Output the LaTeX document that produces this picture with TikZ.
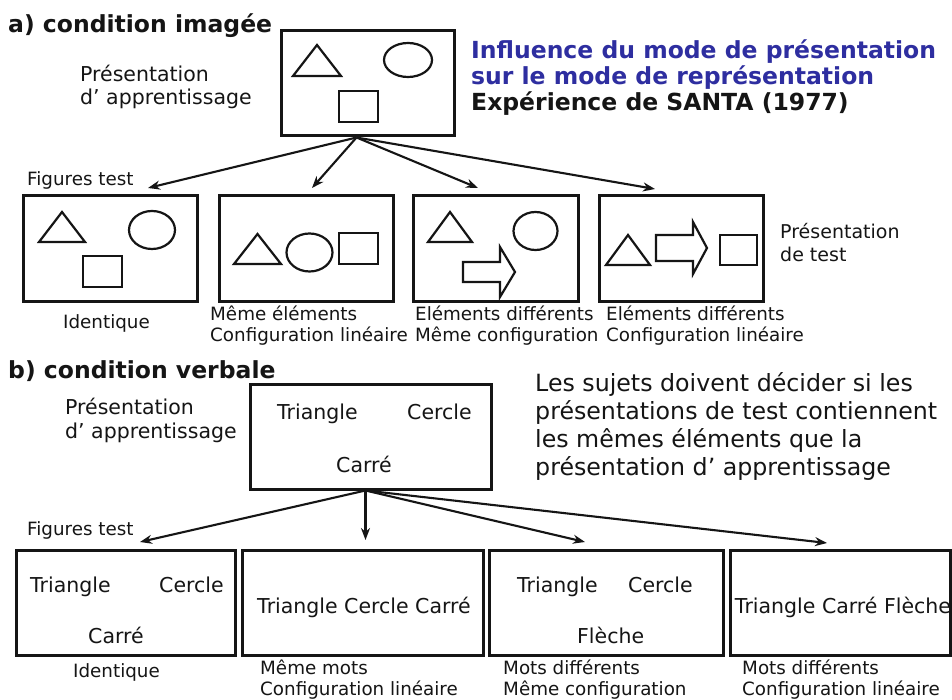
\documentclass[tikz,border=0pt]{standalone}
\usepackage{fontspec}
\setmainfont{DejaVu Sans}
\usetikzlibrary{arrows.meta}
\definecolor{ttlblue}{HTML}{2E2EA0}
\definecolor{ink}{HTML}{151515}
\begin{document}
\begin{tikzpicture}[x=1pt,y=-1pt,
  frame/.style={draw=ink,line width=3pt,inner sep=0pt},
  fig/.style={draw=ink,line width=2.2pt,line join=miter},
  conn/.style={draw=ink,line width=2.1pt,-{Stealth[length=12pt,width=9pt]}},
  bigtxt/.style={font=\fontsize{23.7}{27.7}\selectfont,text=ink,inner sep=0pt,align=left,anchor=base west},
  ttl/.style={font=\bfseries\fontsize{23.5}{26}\selectfont,inner sep=0pt,align=left,anchor=base west},
  lbl/.style={font=\fontsize{18.3}{20.5}\selectfont,text=ink,inner sep=0pt,align=left,anchor=base west},
  pres/.style={font=\fontsize{20.5}{23.5}\selectfont,text=ink,inner sep=0pt,align=left,anchor=base west},
  word/.style={font=\fontsize{20.5}{24}\selectfont,text=ink,inner sep=0pt,anchor=base west},
]
\useasboundingbox[fill=white] (0,0) rectangle (952,700);

% ---------- a) condition imagée ----------
\node[ttl,text=ink] (titleA) at (8,33) {a) condition imagée};
\node[pres] (presA) at (80,105) {Présentation\\d’ apprentissage};
\node[ttl,text=ttlblue] (influ) at (471,85) {Influence du mode de présentation\\sur le mode de représentation};
\node[ttl,text=ink] (santa) at (471,111) {Expérience de SANTA (1977)};

\node[frame,minimum width=173pt,minimum height=105pt] (topA) at (367.5,83.5) {};
\draw[fig] (293,76) -- (341,76) -- (317,45) -- cycle;
\draw[fig] (408,60) ellipse [x radius=24,y radius=17];
\draw[fig] (339,91) rectangle (378,122);

\node[lbl] (figA) at (27,186) {Figures test};

\node[frame,minimum width=174pt,minimum height=106pt] (tA1) at (110,249) {};
\node[frame,minimum width=174pt,minimum height=106pt] (tA2) at (306,249) {};
\node[frame,minimum width=165pt,minimum height=106pt] (tA3) at (495.5,249) {};
\node[frame,minimum width=164pt,minimum height=106pt] (tA4) at (681,249) {};

% box 1
\draw[fig] (39,242) -- (85,242) -- (62,212) -- cycle;
\draw[fig] (152,230) ellipse [x radius=23,y radius=19];
\draw[fig] (83,256) rectangle (122,287);
% box 2
\draw[fig] (234,264) -- (281,264) -- (257.5,234) -- cycle;
\draw[fig] (309.5,252.5) ellipse [x radius=23,y radius=19];
\draw[fig] (339,233) rectangle (378,264);
% box 3
\draw[fig] (428,242) -- (472,242) -- (450,212) -- cycle;
\draw[fig] (535.5,231) ellipse [x radius=22,y radius=19];
\draw[fig] (463,262) -- (500,262) -- (500,247) -- (515,272) -- (500,297) -- (500,282) -- (463,282) -- cycle;
% box 4
\draw[fig] (606,265) -- (650,265) -- (628,235) -- cycle;
\draw[fig] (656,235) -- (693,235) -- (693,222) -- (707,248) -- (693,274) -- (693,261) -- (656,261) -- cycle;
\draw[fig] (720,235) rectangle (757,265);

\node[lbl,font=\fontsize{19}{24}\selectfont] (presT) at (780,262) {Présentation\\de test};

\node[lbl] (lA1) at (63,328) {Identique};
\node[lbl] (lA2) at (210,341) {Même éléments\\Configuration linéaire};
\node[lbl] (lA3) at (415,341) {Eléments différents\\Même configuration};
\node[lbl] (lA4) at (606,341) {Eléments différents\\Configuration linéaire};

\coordinate (a0) at ([xshift=-11pt]topA.south);
\coordinate (ea1) at (148,188);
\coordinate (ea2) at (312,188);
\coordinate (ea3) at (478,188);
\coordinate (ea4) at (655,189);
\foreach \e in {ea1,ea2,ea3,ea4} \draw[conn] (a0) -- (\e);

% ---------- b) condition verbale ----------
\node[ttl,text=ink] (titleB) at (8,378) {b) condition verbale};
\node[pres] (presB) at (65,438) {Présentation\\d’ apprentissage};
\node[bigtxt] (consigne) at (535,475) {Les sujets doivent décider si les\\présentations de test contiennent\\les mêmes éléments que la\\présentation d’ apprentissage};

\node[frame,minimum width=241pt,minimum height=105pt] (topB) at (370.5,436.5) {};
\node[word] (wB1) at (277,419) {Triangle};
\node[word] (wB2) at (407,419) {Cercle};
\node[word] (wB3) at (336,472) {Carré};

\node[lbl] (figB) at (27,535) {Figures test};

\node[frame,minimum width=219pt,minimum height=105pt] (tB1) at (125.5,602.5) {};
\node[frame,minimum width=241pt,minimum height=105pt] (tB2) at (362.5,602.5) {};
\node[frame,minimum width=234pt,minimum height=105pt] (tB3) at (606,602.5) {};
\node[frame,minimum width=220pt,minimum height=105pt] (tB4) at (840,602.5) {};

\node[word] (w11) at (30,592) {Triangle};
\node[word] (w12) at (159,592) {Cercle};
\node[word] (w13) at (88,643) {Carré};
\node[word,anchor=base] (w21) at (364,613) {Triangle Cercle Carré};
\node[word] (w31) at (517,592) {Triangle};
\node[word] (w32) at (628,592) {Cercle};
\node[word] (w33) at (577,643) {Flèche};
\node[word,anchor=base] (w41) at (843,613) {Triangle Carré Flèche};

\node[lbl] (lB1) at (73,677) {Identique};
\node[lbl] (lB2) at (260,695) {Même mots\\Configuration linéaire};
\node[lbl] (lB3) at (503,695) {Mots différents\\Même configuration};
\node[lbl] (lB4) at (742,695) {Mots différents\\Configuration linéaire};

\coordinate (b0) at ([xshift=-5pt]topB.south);
\coordinate (eb1) at (140,542);
\coordinate (eb2) at (365.5,540);
\coordinate (eb3) at (585,542);
\coordinate (eb4) at (827,543);
\draw[conn] (b0) -- (eb1);
\draw[conn] (b0) -- (eb2);
\draw[conn] (b0) -- (eb3);
\draw[conn] (b0) -- (eb4);
\end{tikzpicture}
\end{document}
